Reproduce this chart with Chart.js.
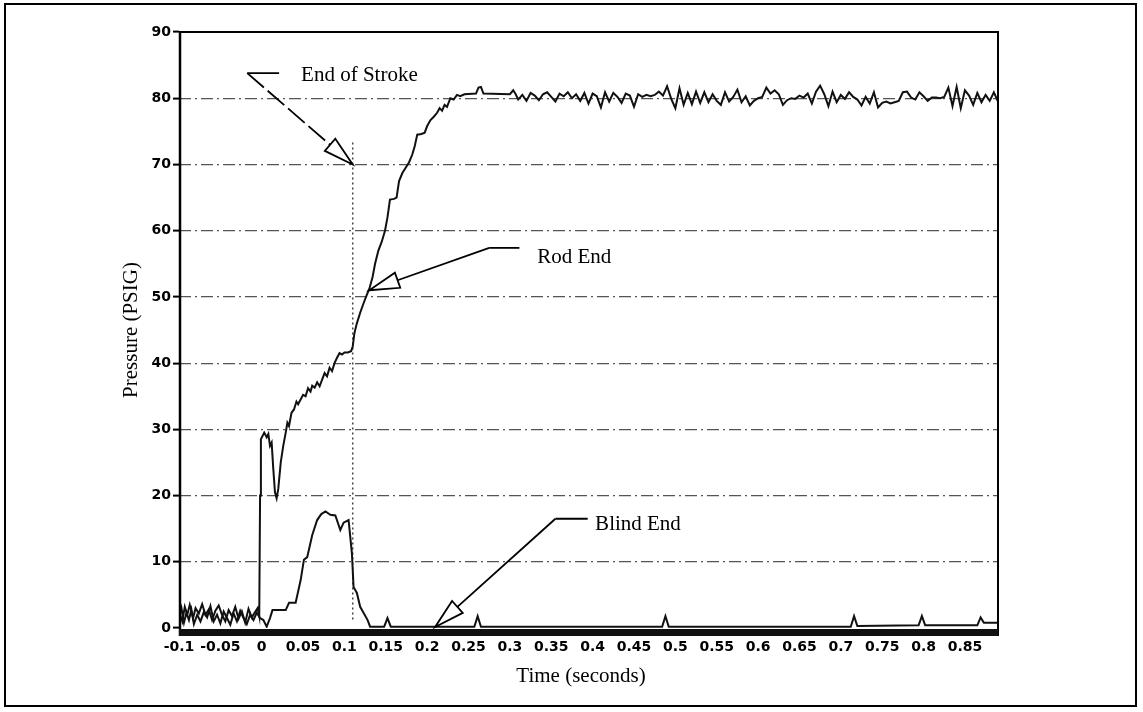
<!DOCTYPE html>
<html><head><meta charset="utf-8">
<script src="https://cdn.jsdelivr.net/npm/chart.js@4/dist/chart.umd.min.js"></script>
<style>html,body{margin:0;padding:0;background:#fff;}#wrap{width:1143px;height:712px;}</style>
</head><body><div id="wrap"><canvas id="c" width="1143" height="712"></canvas></div>
<script>
// ---- tick labels ----
const xTickValues = [-0.1,-0.05,0,0.05,0.1,0.15,0.2,0.25,0.3,0.35,0.4,0.45,0.5,0.55,0.6,0.65,0.7,0.75,0.8,0.85];
const xTickLabels = ['-0.1','-0.05','0','0.05','0.1','0.15','0.2','0.25','0.3','0.35','0.4','0.45','0.5','0.55','0.6','0.65','0.7','0.75','0.8','0.85'];
const yTickValues = [0,10,20,30,40,50,60,70,80,90];

// ---- Rod End series (time s, pressure PSIG) ----
const rodTime = [
-0.100,-0.096,-0.093,-0.090,-0.087,-0.083,-0.080,-0.076,-0.072,-0.068,-0.064,-0.060,-0.056,-0.052,-0.048,-0.044,-0.040,-0.036,-0.032,-0.028,-0.024,-0.020,-0.016,-0.012,-0.008,-0.005,-0.003,
-0.002,-0.001,0.003,0.006,0.008,0.010,0.012,0.014,0.016,0.018,0.020,0.023,0.026,0.029,0.031,0.033,0.036,0.039,0.042,0.044,0.047,0.050,0.053,0.056,0.059,0.061,0.064,0.067,0.070,0.073,0.076,0.079,0.082,0.085,0.088,0.091,0.094,0.097,0.100,0.104,0.108,
0.110,0.112,0.115,0.119,0.123,0.127,0.130,0.134,0.137,0.141,0.145,0.149,0.152,0.155,0.160,0.163,0.166,0.170,0.174,0.178,0.182,0.185,0.188,0.193,0.197,0.200,0.204,0.208,0.212,0.215,0.218,0.221,0.224,0.228,0.232,0.236,0.240,0.245,0.259,0.262,0.265,0.268,0.300,0.304,0.307,
0.310,0.315,0.320,0.325,0.330,0.335,0.340,0.345,0.350,0.355,0.360,0.365,0.370,0.375,0.380,0.385,0.390,0.395,0.400,0.405,0.410,0.415,0.420,0.425,0.430,0.435,0.440,0.445,0.450,0.455,0.460,0.465,0.470,0.475,0.480,0.485,0.490,0.495,0.500,0.505,0.510,0.515,0.520,0.525,0.530,0.535,0.540,0.545,0.550,0.555,0.560,0.565,0.570,0.575,0.580,0.585,0.590,0.595,0.600,0.605,0.610,0.615,0.620,0.625,0.630,0.635,0.640,0.645,0.650,0.655,0.660,0.665,0.670,0.675,0.680,0.685,0.690,0.695,0.700,0.705,0.710,0.715,0.720,0.725,0.730,0.735,0.740,0.745,0.750,0.755,0.760,0.765,0.770,0.775,0.780,0.785,0.790,0.795,0.800,0.805,0.810,0.815,0.820,0.825,0.830,0.835,0.840,0.845,0.850,0.855,0.860,0.865,0.870,0.875,0.880,0.885,0.890];
const rodPressure = [
2.5,1.0,3.2,2.0,3.5,1.5,3.0,2.2,3.6,2.0,2.8,1.2,2.6,3.4,2.0,1.0,2.7,1.8,3.2,1.4,2.5,0.8,2.9,1.6,2.4,3.0,1.8,
20.0,28.5,29.5,28.8,29.3,27.5,28.0,24.0,20.5,19.6,21.0,25.0,27.5,29.5,31.0,30.5,32.5,33.0,34.2,33.8,34.5,35.2,35.0,36.2,35.7,36.6,36.3,37.1,36.5,37.5,38.5,38.0,39.3,38.8,40.0,40.8,41.5,41.3,41.6,41.6,41.8,
42.5,44.5,46.0,47.6,49.0,50.3,51.2,53.0,55.0,57.0,58.3,60.0,62.0,64.7,64.8,65.0,67.5,68.7,69.5,70.3,71.5,72.8,74.5,74.6,74.8,75.8,76.7,77.2,77.8,78.5,78.1,79.0,78.7,80.0,79.8,80.5,80.3,80.6,80.7,81.6,81.7,80.7,80.6,81.2,80.6,
79.8,80.5,79.6,80.8,80.4,79.7,80.6,80.9,80.2,79.5,80.7,80.3,80.9,80.0,80.6,79.6,80.8,79.2,80.7,80.3,78.6,80.9,79.5,80.8,80.2,79.3,80.7,80.4,78.7,80.6,80.2,80.5,80.3,80.5,81.0,80.4,81.8,79.9,78.5,81.5,79.0,80.8,79.1,81.0,79.3,80.9,79.4,80.6,79.6,79.0,80.9,79.5,80.2,81.3,79.4,80.3,78.9,79.6,80.0,80.2,81.6,80.7,81.2,80.6,79.0,79.7,80.0,79.9,80.4,80.1,80.7,79.2,81.0,81.9,80.6,78.8,81.0,79.4,80.5,79.9,80.9,80.2,79.8,78.9,80.2,79.2,80.9,78.6,79.3,79.5,79.2,79.4,79.6,80.9,81.0,80.1,79.8,80.9,80.3,79.6,80.1,80.1,80.0,80.2,81.6,78.8,81.7,78.5,81.2,80.4,79.0,80.8,79.4,80.5,79.6,80.9,79.5];

// ---- Blind End series ----
const blindTime = [
-0.100,-0.097,-0.094,-0.091,-0.088,-0.085,-0.082,-0.078,-0.074,-0.070,-0.066,-0.062,-0.058,-0.054,-0.050,-0.046,-0.042,-0.038,-0.034,-0.030,-0.026,-0.022,-0.018,-0.014,-0.010,-0.006,-0.002,
0.002,0.006,0.010,0.013,0.029,0.033,0.041,0.047,0.051,0.055,0.061,0.067,0.072,0.077,0.083,0.089,0.095,0.099,0.105,0.109,0.111,0.115,0.119,0.128,0.131,
0.148,0.152,0.156,0.257,0.261,0.265,0.484,0.488,0.492,0.712,0.716,0.720,0.794,0.798,0.802,0.865,0.869,0.873,0.890];
const blindPressure = [
1.5,3.0,0.8,2.3,1.2,2.8,0.6,2.0,1.0,2.4,1.6,3.3,1.0,2.0,0.7,2.5,1.5,0.5,2.2,1.0,2.6,1.5,0.6,2.0,1.2,2.3,1.5,
1.2,0.2,1.5,2.7,2.7,3.8,3.8,7.2,10.3,10.7,14.0,16.3,17.2,17.6,17.1,17.0,14.8,15.9,16.3,11.3,6.2,5.3,3.2,1.2,0.2,
0.2,1.5,0.2,0.2,1.8,0.2,0.2,1.8,0.2,0.2,1.8,0.3,0.4,1.8,0.4,0.4,1.6,0.8,0.8];

// ---- annotations (data coordinates) ----
const markerLine = {time:0.110, top:73.3, bottom:1.0};
const callouts = [
  {label:'End of Stroke', tip:[0.110,70], elbow:[-0.0175,83.8], shelf:[0.021,83.8], text:[0.0476,83.5], dash:[22,5]},
  {label:'Rod End', tip:[0.130,51], elbow:[0.275,57.4], shelf:[0.3115,57.4], text:[0.333,56.0], dash:null},
  {label:'Blind End', tip:[0.2096,0.15], elbow:[0.355,16.5], shelf:[0.394,16.5], text:[0.403,15.6], dash:null}
];
const yTitle = 'Pressure (PSIG)';
const xTitle = 'Time (seconds)';

const serif = '21px "Liberation Serif", "DejaVu Serif", serif';

function drawCallout(ctx, x, y, c){
  const T = {x:x.getPixelForValue(c.tip[0]), y:y.getPixelForValue(c.tip[1])};
  const E = {x:x.getPixelForValue(c.elbow[0]), y:y.getPixelForValue(c.elbow[1])};
  const S = {x:x.getPixelForValue(c.shelf[0]), y:y.getPixelForValue(c.shelf[1])};
  const dx=E.x-T.x, dy=E.y-T.y, len=Math.hypot(dx,dy), ux=dx/len, uy=dy/len;
  const L=30, W=8;
  const bx=T.x+ux*L, by=T.y+uy*L, px=-uy, py=ux;
  ctx.strokeStyle='#000'; ctx.lineWidth=1.8;
  ctx.setLineDash([]);
  ctx.beginPath(); ctx.moveTo(E.x,E.y); ctx.lineTo(S.x,S.y); ctx.stroke();
  ctx.setLineDash(c.dash||[]);
  ctx.beginPath(); ctx.moveTo(E.x,E.y); ctx.lineTo(bx,by); ctx.stroke();
  ctx.setLineDash([]);
  ctx.beginPath(); ctx.moveTo(T.x,T.y); ctx.lineTo(bx+px*W,by+py*W); ctx.lineTo(bx-px*W,by-py*W); ctx.closePath();
  ctx.fillStyle='#fff'; ctx.fill(); ctx.stroke();
  ctx.fillStyle='#000'; ctx.font=serif; ctx.textAlign='left'; ctx.textBaseline='middle';
  ctx.fillText(c.label, x.getPixelForValue(c.text[0]), y.getPixelForValue(c.text[1]));
}

const decor = {
  id:'decor',
  beforeDraw(chart){
    const ctx=chart.ctx; ctx.save(); ctx.fillStyle='#fff'; ctx.fillRect(0,0,chart.width,chart.height); ctx.restore();
  },
  beforeDatasetsDraw(chart){
    const {ctx, scales:{x,y}} = chart;
    ctx.save(); ctx.strokeStyle='#444'; ctx.lineWidth=1.5; ctx.setLineDash([2,3]);
    const mx=x.getPixelForValue(markerLine.time);
    ctx.beginPath(); ctx.moveTo(mx,y.getPixelForValue(markerLine.top)); ctx.lineTo(mx,y.getPixelForValue(markerLine.bottom)); ctx.stroke();
    ctx.restore();
  },
  afterDraw(chart){
    const {ctx, chartArea:a, scales:{x,y}} = chart;
    ctx.save();
    ctx.strokeStyle='#000'; ctx.setLineDash([]);
    ctx.lineWidth=2;
    ctx.beginPath(); ctx.moveTo(a.left, a.top); ctx.lineTo(a.right, a.top); ctx.lineTo(a.right, a.bottom+8); ctx.stroke();
    ctx.lineWidth=2.5;
    ctx.beginPath(); ctx.moveTo(a.left+1, a.top-1); ctx.lineTo(a.left+1, a.bottom+8); ctx.stroke();
    ctx.fillStyle='#111';
    ctx.fillRect(a.left, a.bottom+1, a.right-a.left, 7);
    callouts.forEach(c=>drawCallout(ctx,x,y,c));
    ctx.fillStyle='#000'; ctx.font=serif; ctx.textAlign='center'; ctx.textBaseline='middle';
    ctx.fillText(xTitle, 581, 676);
    ctx.save(); ctx.translate(131, 330); ctx.rotate(-Math.PI/2); ctx.fillText(yTitle, 0, 0); ctx.restore();
    ctx.lineWidth=2; ctx.strokeStyle='#000';
    ctx.strokeRect(5, 4, 1131, 702);
    ctx.restore();
  }
};

const tickFont = {family:'"DejaVu Sans", sans-serif', size:14, weight:'bold'};
new Chart(document.getElementById('c'), {
  type:'line',
  data:{datasets:[
    {label:'Rod End', data:rodTime.map((t,i)=>({x:t,y:rodPressure[i]})), borderColor:'#111', borderWidth:2, pointRadius:0, tension:0, fill:false},
    {label:'Blind End', data:blindTime.map((t,i)=>({x:t,y:blindPressure[i]})), borderColor:'#111', borderWidth:2, pointRadius:0, tension:0, fill:false}
  ]},
  options:{
    responsive:false, animation:false, devicePixelRatio:1,
    layout:{padding:{left:0, top:32, right:145, bottom:0}},
    plugins:{legend:{display:false}, tooltip:{enabled:false}},
    scales:{
      x:{type:'linear', min:-0.1, max:0.89,
        afterBuildTicks(s){ s.ticks = xTickValues.map(v=>({value:v})); },
        afterFit(s){ s.height = 84; },
        ticks:{autoSkip:false, maxRotation:0, color:'#000', font:tickFont, padding:3,
          callback(v, i){ return xTickLabels[i]; }},
        grid:{display:false, drawTicks:true, tickLength:8},
        border:{display:false}
      },
      y:{min:0, max:90,
        afterBuildTicks(s){ s.ticks = yTickValues.map(v=>({value:v})); },
        afterFit(s){ s.width = 179; },
        ticks:{color:'#000', font:tickFont, padding:2, callback(v){ return String(v); }},
        grid:{color(ctx){ const v=ctx.tick&&ctx.tick.value; return (v===0||v===90)?'rgba(0,0,0,0)':'#555'; },
          lineWidth:1.2, tickColor:'#000', tickWidth:2, tickLength:6, drawTicks:true},
        border:{display:false, dash:[12,4,2,4]}
      }
    }
  },
  plugins:[decor]
});
</script>
</body></html>
